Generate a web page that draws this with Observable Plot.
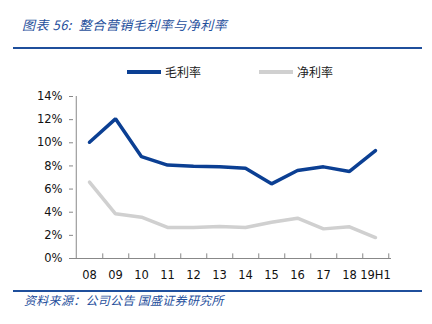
<!DOCTYPE html>
<html>
<head>
<meta charset="utf-8">
<script src="https://cdn.jsdelivr.net/npm/d3@7"></script>
<script src="https://cdn.jsdelivr.net/npm/@observablehq/plot@0.6"></script>
<style>
  html, body { margin: 0; padding: 0; background: #fff; width: 432px; height: 324px; overflow: hidden; }
  #wrap { position: relative; width: 432px; height: 324px; }
  .title { position: absolute; left: 22px; top: 15px; font-family: "Noto Sans CJK SC", sans-serif; font-style: italic; font-size: 13px; color: #1f4f9c; letter-spacing: 0.5px; }
  .rule { position: absolute; left: 13px; width: 409px; height: 2px; background: #1f4f9c; }
  .legend { position: absolute; top: 63px; font-family: "Noto Sans CJK SC", sans-serif; font-size: 12px; color: #222; display: flex; align-items: center; }
  .sw { display: inline-block; width: 34px; height: 4px; margin-right: 4px; }
  .caption { position: absolute; left: 24px; top: 291px; font-family: "Noto Sans CJK SC", sans-serif; font-style: italic; font-size: 12px; color: #1f4f9c; letter-spacing: 0.3px; }
  #chart { position: absolute; left: 0; top: 85px; }
</style>
</head>
<body>
<div id="wrap">
  <div class="title">图表 56:&nbsp; 整合营销毛利率与净利率</div>
  <div class="rule" style="top:47px"></div>
  <div class="legend" style="left:127px"><span class="sw" style="background:#0b3f93"></span>毛利率</div>
  <div class="legend" style="left:259px"><span class="sw" style="background:#d0d0d0"></span>净利率</div>
  <div id="chart"></div>
  <div class="rule" style="top:290px"></div>
  <div class="caption">资料来源：公司公告 国盛证券研究所</div>
</div>
<script>
const categories = ["08","09","10","11","12","13","14","15","16","17","18","19H1"];
const grossMargin = [10.05, 12.07, 8.8, 8.07, 7.98, 7.92, 7.8, 6.45, 7.6, 7.92, 7.52, 9.33];
const netMargin = [6.6, 3.86, 3.57, 2.68, 2.68, 2.77, 2.68, 3.14, 3.48, 2.56, 2.74, 1.81];
const seriesNames = ["毛利率", "净利率"];
const seriesColors = ["#0b3f93", "#d0d0d0"];
const yTicks = [0, 2, 4, 6, 8, 10, 12, 14];

const rows = [];
categories.forEach((c, i) => {
  rows.push({cat: c, value: grossMargin[i], series: seriesNames[0]});
  rows.push({cat: c, value: netMargin[i], series: seriesNames[1]});
});

const width = 432, marginLeft = 73, marginRight = 41;
const step = (width - marginLeft - marginRight) / categories.length;

const chart = Plot.plot({
  width,
  height: 200,
  marginLeft,
  marginRight,
  marginTop: 11,
  marginBottom: 27,
  style: {fontFamily: "DejaVu Sans, Verdana, sans-serif", fontSize: "11.5px", color: "#111", background: "transparent"},
  x: {type: "point", domain: categories, padding: 0.5, label: null},
  y: {domain: [0, 14], label: null},
  color: {domain: seriesNames, range: seriesColors},
  marks: [
    Plot.axisY({ticks: yTicks, tickFormat: d => d + "%", tickSize: 4, tickPadding: 7, stroke: "#888", fill: "#111", fontSize: 11.5}),
    Plot.ruleX([0], {x: () => categories[0], dx: -step / 2, stroke: "#888"}),
    Plot.ruleY([0], {stroke: "#888"}),
    Plot.ruleX(categories, {x: d => d, y1: 0, y2: 0.4, dx: step / 2, stroke: "#888"}),
    Plot.axisX({tickSize: 0, tickPadding: 12, fontSize: 11.5, fill: "#111"}),
    Plot.line(rows, {x: "cat", y: "value", z: "series", stroke: "series", strokeWidth: 3.5, strokeLinejoin: "miter"})
  ]
});
document.getElementById("chart").appendChild(chart);
</script>
</body>
</html>
